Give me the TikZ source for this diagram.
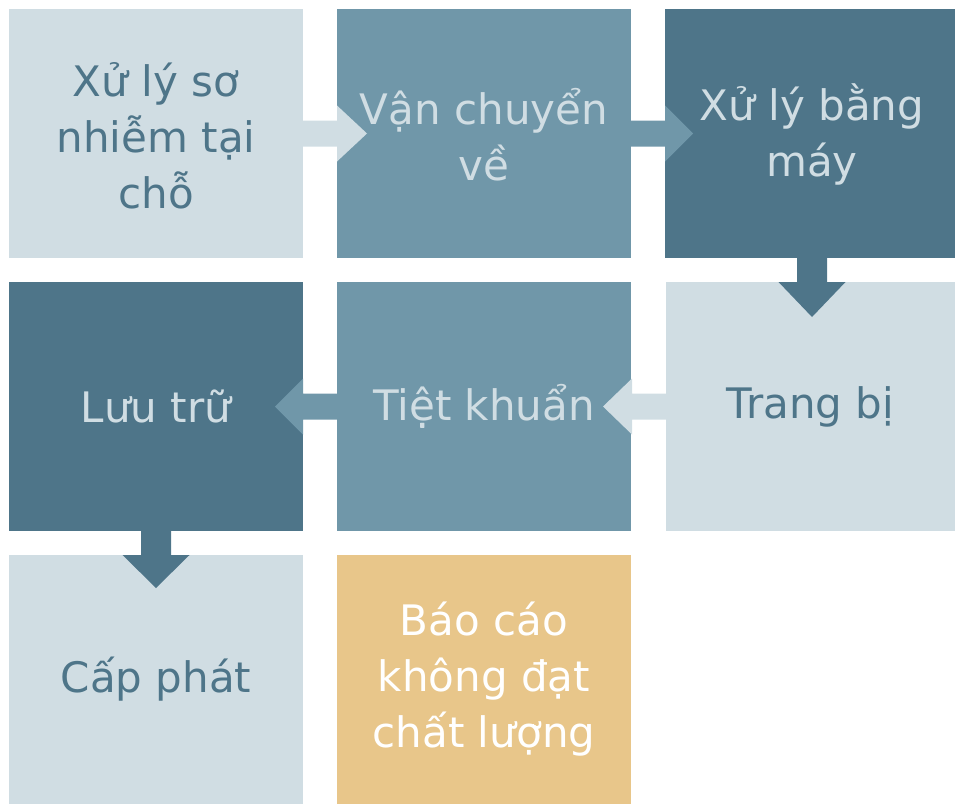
\documentclass[tikz,border=0pt]{standalone}
\usepackage{fontspec}
\setmainfont{DejaVu Sans}
\usetikzlibrary{calc}
\definecolor{lightc}{HTML}{D0DDE3}
\definecolor{midc}{HTML}{7097A9}
\definecolor{darkc}{HTML}{4E7589}
\definecolor{goldc}{HTML}{E8C68A}
\newcommand{\hblockarrow}[5]{% start, dir, join, tip, colour
  \fill[#5] ($(#1)+(0,-13)$) -- ($(#1)+(#2*#3,-13)$) -- ($(#1)+(#2*#3,-28)$) -- ($(#1)+(#2*#4,0)$) -- ($(#1)+(#2*#3,28)$) -- ($(#1)+(#2*#3,13)$) -- ($(#1)+(0,13)$) -- cycle;}
\newcommand{\vblockarrow}[4]{% start, join, tip, colour
  \fill[#4] ($(#1)+(-15,0)$) -- ($(#1)+(-15,#2)$) -- ($(#1)+(-33.5,#2)$) -- ($(#1)+(0,#3)$) -- ($(#1)+(33.5,#2)$) -- ($(#1)+(15,#2)$) -- ($(#1)+(15,0)$) -- cycle;}
\tikzset{
  box/.style={rectangle, anchor=north west, inner sep=0pt, outer sep=0pt, minimum width=294pt, minimum height=249pt, draw=none},
  txt/.style={align=center, inner sep=0pt, font=\fontsize{42}{56}\selectfont}
}
\begin{document}
\begin{tikzpicture}[x=1pt, y=-1pt]
\useasboundingbox (0,0) rectangle (955,803);
\node[box, fill=lightc] (b1) at (9,9) {};
\node[box, fill=midc] (b2) at (337,9) {};
\node[box, fill=darkc, minimum width=290pt] (b3) at (665,9) {};
\node[box, fill=darkc] (b4) at (9,282) {};
\node[box, fill=midc] (b5) at (337,282) {};
\node[box, fill=lightc, minimum width=289pt] (b6) at (666,282) {};
\node[box, fill=lightc] (b7) at (9,555) {};
\node[box, fill=goldc] (b8) at (337,555) {};
% connectors
\hblockarrow{b1.east}{1}{34}{64}{lightc}
\hblockarrow{b2.east}{1}{34}{62}{midc}
\vblockarrow{$(b3.south)+(2,0)$}{24}{59}{darkc}
\hblockarrow{b6.west}{-1}{34}{63}{lightc}
\hblockarrow{b5.west}{-1}{34}{62}{midc}
\vblockarrow{b4.south}{24}{57}{darkc}
% texts
\node[txt, text=darkc] (t1) at ($(b1.center)+(0,2)$) {Xử lý sơ\\nhiễm tại\\chỗ};
\node[txt, text=lightc] (t2) at ($(b2.center)+(0,1)$) {Vận chuyển\\về};
\node[txt, text=lightc] (t3) at ($(b3.center)+(2,1)$) {Xử lý bằng\\máy};
\node[txt, text=lightc] (t4) at (b4.center) {Lưu trữ};
\node[txt, text=lightc] (t5) at (b5.center) {Tiệt khuẩn};
\node[txt, text=darkc] (t6) at (b6.center) {Trang bị};
\node[txt, text=darkc] (t7) at (b7.center) {Cấp phát};
\node[txt, text=white] (t8) at (b8.center) {Báo cáo\\không đạt\\chất lượng};
\end{tikzpicture}
\end{document}
